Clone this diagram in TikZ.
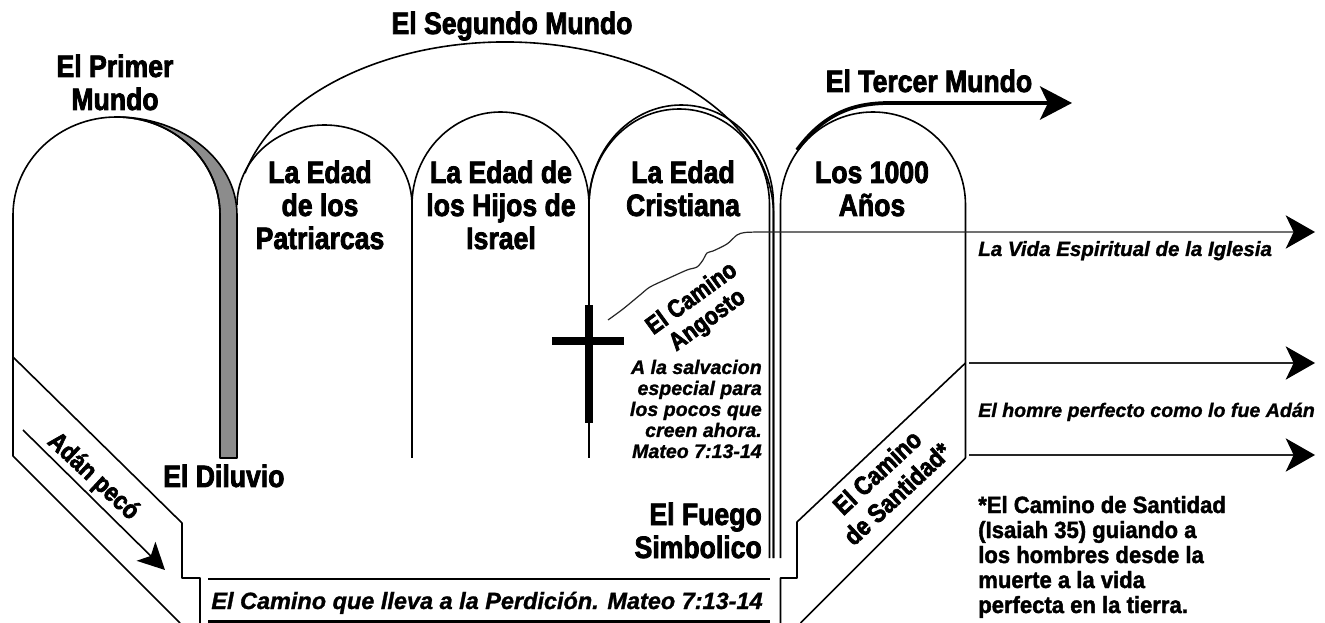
\documentclass[tikz,border=0pt]{standalone}
\usepackage{fontspec}
\setmainfont{Liberation Sans}
\newfontfamily\condfont[FakeStretch=0.86,FakeBold=2.5]{Liberation Sans Bold}
\newfontfamily\noteitfont[FakeBold=1.2]{Liberation Sans Bold Italic}
\newfontfamily\footfont[FakeStretch=0.94,FakeBold=1.8]{Liberation Sans Bold}
\usetikzlibrary{arrows.meta}
\begin{document}
\begin{tikzpicture}[x=0.75pt,y=-0.75pt,
  ln/.style={line width=1.2pt, line join=round},
  fineln/.style={line width=0.9pt, draw=black!85},
  bigarrow/.style={-{Stealth[length=22pt,width=25pt,inset=6pt,color=black]}},
  titlelbl/.style={font=\condfont\fontsize{23.2}{24.75}\selectfont, inner sep=0, anchor=base},
  notelbl/.style={font=\noteitfont\fontsize{14.7}{15.75}\selectfont, inner sep=0},
  perdlbl/.style={font=\noteitfont\fontsize{17.6}{19}\selectfont, inner sep=0, anchor=base},
  footlbl/.style={font=\footfont\fontsize{17.6}{18.75}\selectfont, inner sep=0, anchor=base west},
  rotlbl/.style={font=\condfont\fontsize{19.5}{22}\selectfont, inner sep=0, align=center}
]
\useasboundingbox (0,0) rectangle (1325,623);
\fill[white] (0,0) rectangle (1325,623);

% gray band of the flood
\filldraw[ln, fill=black!45] (116.5,117) arc[start angle=270,end angle=360,x radius=120.5,y radius=98]
  -- (237,458) -- (220,458) -- (220,215) arc[start angle=360,end angle=270,x radius=103.5,y radius=98] -- cycle;
% arch 1 (first world) with the lower left path
\draw[ln] (180,623) -- (13,456) -- (13,215) arc[start angle=180,end angle=360,x radius=103.5,y radius=98] -- (220,458);
\draw[ln] (13,357) -- (182,523) -- (182,578) -- (200,578) -- (200,623);
% arch 2, 3
\draw[ln] (237,205) arc[start angle=180,end angle=360,x radius=87.5,y radius=80];
\draw[ln] (412,205) arc[start angle=180,end angle=360,x radius=88.5,y radius=93];
\draw[ln] (412,205) -- (412,458);
\draw[ln] (589,205) -- (589,458);
% arch 4 (double)
\draw[ln] (589,205) arc[start angle=180,end angle=360,x radius=90.25,y radius=96] -- (769.5,558);
\draw[ln] (589,205) arc[start angle=180,end angle=360,x radius=92.25,y radius=100] -- (773.5,558);
% big arc (second world)
\draw[ln] (244.99,173.15) arc[start angle=194,end angle=360,x radius=268.25,y radius=173] -- (773.5,558);
% arch 5
\draw[ln] (780.5,558) -- (780.5,205) arc[start angle=180,end angle=360,x radius=92.5,y radius=93] -- (965.5,458);
% right path
\draw[ln] (965.5,363) -- (797,522) -- (797,578) -- (780.5,578) -- (780.5,623);
\draw[ln] (965.5,458) -- (800.5,623);
% road to perdition
\draw[line width=2pt] (208,579) -- (770,579);
\draw[line width=2pt] (208,621.5) -- (770,621.5);

% cross
\fill (585,305) rectangle (593,423);
\fill (552,337) rectangle (624,345);

% coordinates for arrows
\coordinate (vidaend) at (1315,232);
\coordinate (hombreA) at (969,363);
\coordinate (hombreAend) at (1315,363);
\coordinate (hombreB) at (969,455);
\coordinate (hombreBend) at (1315,455);
\coordinate (tercerS) at (797,150);
\coordinate (tercerE) at (1072,103);
\coordinate (adanS) at (23,430);
\coordinate (adanE) at (165,570);

\draw[fineln, bigarrow] plot[smooth,tension=0.5] coordinates {(608,320) (623,309) (640,295) (650,287) (667,279) (687,270) (697,267) (703,260) (707,253) (713,251) (727,244) (737,235) (745,232.5) (760,232)} -- (vidaend);
\draw[fineln, bigarrow] (hombreA) -- (hombreAend);
\draw[fineln, bigarrow] (hombreB) -- (hombreBend);
\draw[line width=2.8pt, -{Stealth[length=24pt,width=25pt,inset=6pt]}] (tercerS) .. controls (825,112) and (855,103) .. (890,103) -- (tercerE);
\draw[line width=1.2pt, -{Stealth[length=20pt,width=20pt,inset=5pt]}] (adanS) -- (adanE);

% titles
\node[titlelbl] (segundo) at (512,34) {El Segundo Mundo};
\node[titlelbl] (primer1) at (115,77) {El Primer};
\node[titlelbl] (primer2) at (115,110) {Mundo};
\node[titlelbl] (tercer) at (929,92) {El Tercer Mundo};
\node[titlelbl] (pat1) at (320,183) {La Edad};
\node[titlelbl] (pat2) at (320,216) {de los};
\node[titlelbl] (pat3) at (320,249) {Patriarcas};
\node[titlelbl] (isr1) at (501,183) {La Edad de};
\node[titlelbl] (isr2) at (501,216) {los Hijos de};
\node[titlelbl] (isr3) at (501,249) {Israel};
\node[titlelbl] (cri1) at (683,183) {La Edad};
\node[titlelbl] (cri2) at (683,216) {Cristiana};
\node[titlelbl] (mil1) at (872,183) {Los 1000};
\node[titlelbl] (mil2) at (872,216) {Años};
\node[titlelbl, anchor=base west] (diluvio) at (163,487) {El Diluvio};
\node[titlelbl, anchor=base east] (fuego1) at (762,525) {El Fuego};
\node[titlelbl, anchor=base east] (fuego2) at (762,558) {Simbolico};

% notes
\node[notelbl, anchor=base east] (sal1) at (762,374) {A la salvacion};
\node[notelbl, anchor=base east] (sal2) at (762,395) {especial para};
\node[notelbl, anchor=base east] (sal3) at (762,416) {los pocos que};
\node[notelbl, anchor=base east] (sal4) at (762,437) {creen ahora.};
\node[notelbl, anchor=base east] (sal5) at (762,458) {Mateo 7:13-14};
\node[notelbl, anchor=base west, font=\noteitfont\fontsize{15.4}{16}\selectfont] (vida) at (978,256) {La Vida Espiritual de la Iglesia};
\node[notelbl, anchor=base west] (homre) at (978,417) {El homre perfecto como lo fue Adán};
\node[perdlbl] (perdicion) at (487,609) {El Camino que lleva a la Perdición. Mateo 7:13-14};

% footnote
\node[footlbl] (f1) at (978,513) {*El Camino de Santidad};
\node[footlbl] (f2) at (978,538) {(Isaiah 35) guiando a};
\node[footlbl] (f3) at (978,563) {los hombres desde la};
\node[footlbl] (f4) at (978,588) {muerte a la vida};
\node[footlbl] (f5) at (978,613) {perfecta en la tierra.};

% rotated labels
\node[rotlbl, rotate=-43] (adan) at (93,477) {Adán pecó};
\node[rotlbl, rotate=36, font=\condfont\fontsize{18.75}{20}\selectfont] (angosto) at (700,310) {El Camino\\Angosto};
\node[rotlbl, rotate=43] (santidad) at (887,483) {El Camino\\de Santidad*};
\end{tikzpicture}
\end{document}
